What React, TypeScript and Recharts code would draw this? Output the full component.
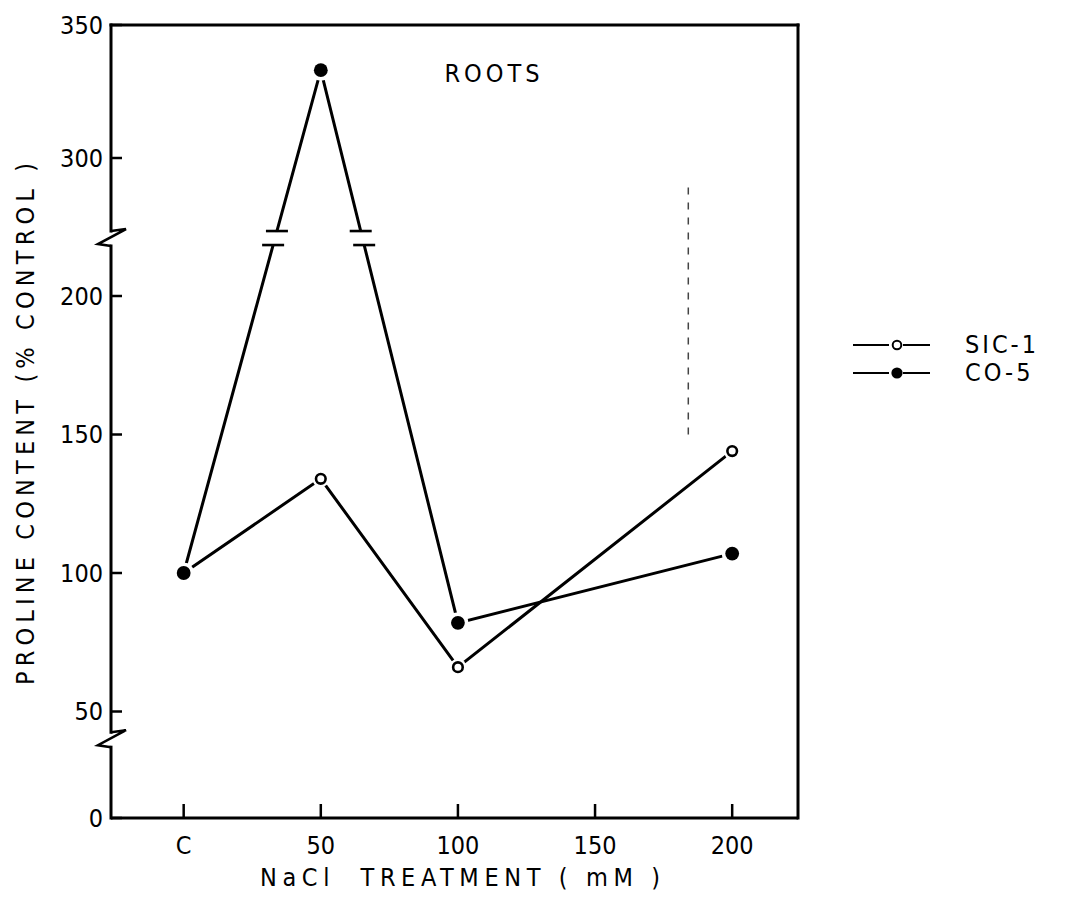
import React from 'react';
import { LineChart, Line, XAxis, YAxis, ReferenceLine, ReferenceDot, Legend, Label } from 'recharts';

// ---------------- data ----------------
const categories = ['C', '50', '100', '150', '200']; // x tick labels
const xTicks = [0, 50, 100, 150, 200]; // NaCl (mM)
const treatment = [0, 50, 100, 200];
const sic1 = [100, 134, 66, 144];
const co5 = [100, 333, 82, 107];
const yTicks = [0, 50, 100, 150, 200, 300, 350];
const seriesNames = ['SIC-1', 'CO-5'];
const axisBreaks = [37, 242]; // values where the y axis is broken
const lineBreakValue = 242; // the CO-5 line is broken at the same level
const stray = { x: 184, from: 150, to: 284 }; // faint dashed mark near 200 mM

// ---------------- broken y scale (layout of the axis) ----------------
const knots: [number, number][] = [
  [0, 0],
  [50, 106.5],
  [200, 522],
  [300, 660],
  [350, 793],
];
function toPos(v: number): number {
  for (let i = 1; i < knots.length; i++) {
    const [v0, p0] = knots[i - 1];
    const [v1, p1] = knots[i];
    if (v <= v1 || i === knots.length - 1) return p0 + ((v - v0) * (p1 - p0)) / (v1 - v0);
  }
  return 0;
}
const Y_MAX = toPos(350);
const X_MIN = -26.5;
const X_MAX = 224;
const FONT = '"DejaVu Sans Condensed", "DejaVu Sans", sans-serif';

const rows = treatment.map((x, i) => ({ x, sic: toPos(sic1[i]), co: toPos(co5[i]) }));

function crossX(i: number, target: number) {
  const p0 = toPos(co5[i]);
  const p1 = toPos(co5[i + 1]);
  const t = (target - p0) / (p1 - p0);
  return treatment[i] + t * (treatment[i + 1] - treatment[i]);
}
const breakPos = toPos(lineBreakValue);
const lineBreaks = [0, 1].map((i) => ({
  mid: crossX(i, breakPos),
  up: crossX(i, breakPos + 7),
  low: crossX(i, breakPos - 7),
}));

const tickLabel = (p: number) => {
  const idx = yTicks.findIndex((v) => Math.abs(toPos(v) - p) < 0.01);
  return idx >= 0 ? String(yTicks[idx]) : '';
};

const openMarker = (p: any) => (
  <g>
    <circle cx={p.cx} cy={p.cy} r={8.5} fill="#fff" />
    <circle cx={p.cx} cy={p.cy} r={4.8} fill="#fff" stroke="#000" strokeWidth={2.6} />
  </g>
);
const filledMarker = (p: any) => (
  <g>
    <circle cx={p.cx} cy={p.cy} r={10.5} fill="#fff" />
    <circle cx={p.cx} cy={p.cy} r={6.9} fill="#000" />
  </g>
);

const renderLegend = (props: any) => {
  const payload = [...(props.payload || [])].sort(
    (a: any, b: any) => seriesNames.indexOf(a.value) - seriesNames.indexOf(b.value)
  );
  return (
    <div style={{ fontFamily: FONT, fontSize: 25, color: '#000' }}>
      {payload.map((e: any, i: number) => (
        <div key={i} style={{ display: 'flex', alignItems: 'center', height: 28 }}>
          <svg width={78} height={20} style={{ display: 'block' }}>
            <line x1={0} x2={36} y1={10} y2={10} stroke="#000" strokeWidth={2} />
            <line x1={50} x2={77} y1={10} y2={10} stroke="#000" strokeWidth={2} />
            {e.dataKey === 'sic' ? (
              <circle cx={44} cy={10} r={4.3} fill="#fff" stroke="#000" strokeWidth={2} />
            ) : (
              <circle cx={44} cy={10} r={5.6} fill="#000" />
            )}
          </svg>
          <span style={{ marginLeft: 34, letterSpacing: 3, lineHeight: '28px' }}>{e.value}</span>
        </div>
      ))}
    </div>
  );
};

const YTitle = () => (
  <text
    x={25}
    y={424}
    transform="rotate(-90 25 424)"
    textAnchor="middle"
    dominantBaseline="central"
    fontFamily={FONT}
    fontSize={25}
    fill="#000"
    style={{ whiteSpace: 'pre' }}
    textLength={522}
    lengthAdjust="spacing"
  >
    {'PROLINE CONTENT (% CONTROL )'}
  </text>
);
const XTitle = () => (
  <text
    x={460}
    y={886}
    textAnchor="middle"
    fontFamily={FONT}
    fontSize={25}
    fill="#000"
    style={{ whiteSpace: 'pre' }}
    textLength={400}
    lengthAdjust="spacing"
  >
    {'NaCl  TREATMENT ( mM )'}
  </text>
);

const frame = { stroke: '#000', strokeWidth: 3, strokeLinecap: 'square' as const };

export default function App() {
  return (
    <div style={{ position: 'absolute', left: 0, top: 0, width: 1071, height: 903, background: '#fff' }}>
      <LineChart width={1071} height={903} data={rows} margin={{ top: 25, right: 273, bottom: 0, left: 0 }}>
        <XAxis
          type="number"
          dataKey="x"
          domain={[X_MIN, X_MAX]}
          ticks={xTicks}
          interval={0}
          allowDataOverflow
          tickFormatter={(v: number) => categories[xTicks.indexOf(v)]}
          height={85}
          axisLine={{ stroke: '#000', strokeWidth: 3 }}
          tickLine={{ stroke: '#000', strokeWidth: 2.5 }}
          tickSize={-14}
          tickMargin={32}
          tick={{ fill: '#000', fontSize: 25, fontFamily: FONT }}
        >
          <Label content={XTitle} />
        </XAxis>
        <YAxis
          type="number"
          domain={[0, Y_MAX]}
          ticks={yTicks.map(toPos)}
          interval={0}
          allowDataOverflow
          tickFormatter={tickLabel}
          width={111}
          axisLine={false}
          tickLine={{ stroke: '#000', strokeWidth: 2.5 }}
          tickSize={-11}
          tickMargin={19}
          tick={{ fill: '#000', fontSize: 25, fontFamily: FONT }}
        >
          <Label content={YTitle} />
        </YAxis>

        {/* frame: left axis with breaks, top and right edges */}
        <ReferenceLine segment={[{ x: X_MIN, y: 0 }, { x: X_MIN, y: toPos(axisBreaks[0]) - 8 }]} {...frame} />
        <ReferenceLine
          segment={[{ x: X_MIN, y: toPos(axisBreaks[0]) + 7 }, { x: X_MIN, y: toPos(axisBreaks[1]) - 8 }]}
          {...frame}
        />
        <ReferenceLine segment={[{ x: X_MIN, y: toPos(axisBreaks[1]) + 7 }, { x: X_MIN, y: Y_MAX }]} {...frame} />
        <ReferenceLine y={Y_MAX} {...frame} />
        <ReferenceLine x={X_MAX} {...frame} />
        <ReferenceLine
          segment={[{ x: stray.x, y: toPos(stray.from) }, { x: stray.x, y: toPos(stray.to) }]}
          stroke="#444"
          strokeWidth={1.5}
          strokeDasharray="7 8"
        />

        <Line
          type="linear"
          dataKey="sic"
          name={seriesNames[0]}
          stroke="#000"
          strokeWidth={3}
          dot={false}
          activeDot={false}
          isAnimationActive={false}
        />
        <Line
          type="linear"
          dataKey="co"
          name={seriesNames[1]}
          stroke="#000"
          strokeWidth={3}
          dot={false}
          activeDot={false}
          isAnimationActive={false}
        />

        {axisBreaks.map((b, i) => (
          <ReferenceDot
            key={`ab-${i}`}
            x={X_MIN}
            y={toPos(b)}
            r={1}
            zIndex={1000}
            shape={(p: any) => (
              <path
                d={`M${p.cx},${p.cy - 7} L${p.cx + 15},${p.cy - 9} L${p.cx - 13},${p.cy + 6} L${p.cx},${p.cy + 8}`}
                stroke="#000"
                strokeWidth={2.6}
                fill="none"
              />
            )}
          />
        ))}
        {lineBreaks.map((b, i) => (
          <ReferenceDot
            key={`lm-${i}`}
            x={b.mid}
            y={breakPos}
            r={1}
            zIndex={1000}
            shape={(p: any) => <rect x={p.cx - 14} y={p.cy - 6} width={28} height={12} fill="#fff" />}
          />
        ))}
        {lineBreaks.flatMap((b, i) =>
          [b.up, b.low].map((xv, j) => (
            <ReferenceDot
              key={`lb-${i}-${j}`}
              x={xv}
              y={breakPos + (j === 0 ? 7 : -7)}
              r={1}
              zIndex={1001}
              shape={(p: any) => (
                <line x1={p.cx - 11} x2={p.cx + 11} y1={p.cy} y2={p.cy} stroke="#000" strokeWidth={2.6} />
              )}
            />
          ))
        )}

        {/* point markers (with the small white gap where the lines meet them) */}
        {treatment.map((x, j) => (
          <ReferenceDot key={`ms-${j}`} x={x} y={toPos(sic1[j])} r={5} zIndex={1002} shape={openMarker} />
        ))}
        {treatment.map((x, j) => (
          <ReferenceDot key={`mc-${j}`} x={x} y={toPos(co5[j])} r={7} zIndex={1003} shape={filledMarker} />
        ))}

        <Legend
          layout="horizontal"
          verticalAlign="middle"
          align="center"
          content={renderLegend}
          wrapperStyle={{ left: 853, top: 331, width: 218, right: 'auto', bottom: 'auto' }}
        />
      </LineChart>
      <div
        style={{
          position: 'absolute',
          left: 494,
          top: 61,
          transform: 'translateX(-50%)',
          fontFamily: FONT,
          fontSize: 25,
          lineHeight: '25px',
          letterSpacing: 4,
          color: '#000',
        }}
      >
        ROOTS
      </div>
    </div>
  );
}
